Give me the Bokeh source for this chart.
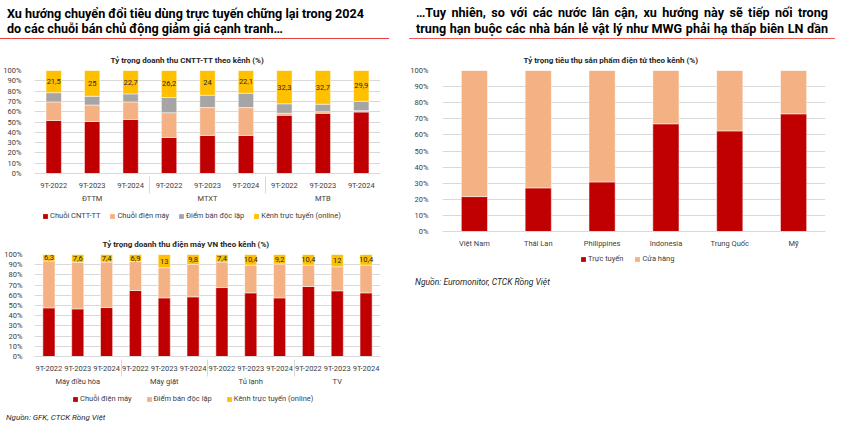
from bokeh.plotting import figure
from bokeh.models import (ColumnDataSource, FactorRange, LabelSet, Legend, LegendItem,
                          FixedTicker, PrintfTickFormatter, Div)
from bokeh.core.properties import value
from bokeh.layouts import row, column
from bokeh.embed import file_html
from bokeh.resources import INLINE

FONT = "Roboto"
RED = "#C00000"
PEACH = "#F4B183"
GRAY = "#A5A5A5"
YELLOW = "#FFC000"
GRID = "#D9D9D9"
TXT = "#404040"

# ---------------- data ----------------
periods = ["9T-2022", "9T-2023", "9T-2024"]

groups1 = ["ĐTTM", "MTXT", "MTB"]
chain_it = [51.5, 50.5, 52.5, 35.0, 37.0, 37.0, 56.5, 58.4, 59.7]
chain_elec1 = [18.0, 16.0, 17.0, 24.0, 27.0, 27.0, 2.0, 1.6, 1.3]
independent1 = [9.0, 8.5, 7.8, 14.8, 12.0, 13.9, 9.2, 7.3, 9.1]
online1 = [21.5, 25.0, 22.7, 26.2, 24.0, 22.1, 32.3, 32.7, 29.9]
names1 = ["Chuỗi CNTT-TT", "Chuỗi điện máy", "Điểm bán độc lập", "Kênh trực tuyến (online)"]

groups2 = ["Máy điều hòa", "Máy giặt", "Tủ lạnh", "TV"]
chain_elec2 = [47.7, 46.7, 48.0, 64.7, 57.5, 58.5, 67.6, 62.4, 57.5, 68.6, 64.4, 62.4]
independent2 = [46.0, 45.7, 44.6, 28.4, 29.5, 31.7, 25.0, 27.2, 33.3, 21.0, 23.6, 27.2]
online2 = [6.3, 7.6, 7.4, 6.9, 13.0, 9.8, 7.4, 10.4, 9.2, 10.4, 12.0, 10.4]
names2 = ["Chuỗi điện máy", "Điểm bán độc lập", "Kênh trực tuyến (online)"]

countries = ["Việt Nam", "Thái Lan", "Philippines", "Indonesia", "Trung Quốc", "Mỹ"]
online3 = [21.7, 27.1, 30.8, 66.9, 62.5, 73.1]
store3 = [78.3, 72.9, 69.2, 33.1, 37.5, 26.9]
names3 = ["Trực tuyến", "Cửa hàng"]

y_ticks = [0, 10, 20, 30, 40, 50, 60, 70, 80, 90, 100]

title_left = ["Xu hướng chuyển đổi tiêu dùng trực tuyến chững lại trong 2024",
              "do các chuỗi bán chủ động giảm giá cạnh tranh…"]
title_right = ["…Tuy nhiên, so với các nước lân cận, xu hướng này sẽ tiếp nối trong",
               "trung hạn buộc các nhà bán lẻ vật lý như MWG phải hạ thấp biên LN dần"]
chart_titles = ["Tỷ trọng doanh thu CNTT-TT theo kênh (%)",
                "Tỷ trọng doanh thu điện máy VN theo kênh (%)",
                "Tỷ trọng tiêu thụ sản phẩm điện tử theo kênh (%)"]
sources = ["Nguồn: GFK, CTCK Rồng Việt", "Nguồn: Euromonitor, CTCK Rồng Việt"]


def fmt(v):
    return f"{v:g}".replace(".", ",")


def style_fig(p, title, offset, tick_standoff):
    p.title.text = title
    p.title.align = "left"
    p.title.offset = offset
    p.title.standoff = 11
    p.title.text_font = FONT
    p.title.text_font_size = "8px"
    p.title.text_font_style = "bold"
    p.title.text_color = "#262626"
    p.outline_line_color = None
    p.xgrid.grid_line_color = None
    p.ygrid.grid_line_color = GRID
    p.yaxis.ticker = FixedTicker(ticks=y_ticks)
    p.yaxis.formatter = PrintfTickFormatter(format="%d%%")
    p.yaxis.axis_line_color = None
    p.yaxis.major_tick_line_color = None
    p.yaxis.minor_tick_line_color = None
    p.yaxis.major_label_text_font = FONT
    p.yaxis.major_label_text_font_size = "7.5px"
    p.yaxis.major_label_text_color = TXT
    p.yaxis.major_label_standoff = tick_standoff
    p.xaxis.axis_line_color = GRID
    p.xaxis.major_tick_line_color = None
    p.xaxis.minor_tick_line_color = None
    p.xaxis.major_label_text_font = FONT
    p.xaxis.major_label_text_font_size = "7.5px"
    p.xaxis.major_label_text_color = TXT
    p.xaxis.major_label_standoff = 1
    p.xaxis.major_label_orientation = "horizontal"


def legend_fig(factors, stackers, src, names, colors, width, loc, spacing, size="7.5px"):
    # legend-only strip: same data, y range kept above the bars so only the legend shows
    lf = figure(width=width, height=18, x_range=FactorRange(*factors), y_range=(1000, 1001),
                x_axis_location=None, y_axis_location=None, output_backend="svg",
                toolbar_location=None, min_border=0)
    lf.outline_line_color = None
    lf.grid.visible = False
    rends = lf.vbar_stack(stackers, x="x", width=0.4, color=colors, line_color=None,
                          source=src)
    items = [LegendItem(label=n, renderers=[r]) for n, r in zip(names, rends)]
    lg = Legend(items=items, orientation="horizontal", location=loc,
                label_text_font=FONT, label_text_font_size=size, label_text_color=TXT,
                glyph_width=6, glyph_height=6, label_standoff=2, spacing=spacing,
                padding=0, margin=0, border_line_color=None, background_fill_alpha=0,
                label_height=8)
    lf.add_layout(lg)
    return lf


def group_axis(p):
    ax = p.xaxis[0]
    ax.group_text_font = FONT
    ax.group_text_font_size = "7.5px"
    ax.group_text_font_style = "normal"
    ax.group_text_color = TXT
    ax.separator_line_color = GRID
    ax.separator_line_width = 1


def labels(src):
    return LabelSet(x="x", y="ly", text="lt", source=src, text_align="center",
                    text_baseline="middle", text_font=value(FONT), text_font_size="7.5px",
                    text_color="#262626")


# ---------------- chart 1 ----------------
x1 = [(g, t) for g in groups1 for t in periods]
src1 = ColumnDataSource(dict(x=x1, a=chain_it, b=chain_elec1, c=independent1, d=online1,
                             ly=[100 - v / 2 for v in online1],
                             lt=[fmt(v) for v in online1]))
p1 = figure(x_range=FactorRange(*x1, factor_padding=0, group_padding=0, range_padding=0),
            y_range=(0, 100), width=400, height=167, output_backend="svg",
            toolbar_location=None, min_border_left=32, min_border_right=20,
            min_border_top=30, min_border_bottom=34)
p1.vbar_stack(["a", "b", "c", "d"], x="x", width=0.4, color=[RED, PEACH, GRAY, YELLOW],
              line_color="white", line_width=0.5, source=src1)
p1.add_layout(labels(src1))
style_fig(p1, chart_titles[0], 76, 7)
group_axis(p1)
leg1 = legend_fig(x1, ["a", "b", "c", "d"], src1, names1, [RED, PEACH, GRAY, YELLOW],
                  400, (8, 5), 9)

# ---------------- chart 2 ----------------
x2 = [(g, t) for g in groups2 for t in periods]
src2 = ColumnDataSource(dict(x=x2, a=chain_elec2, b=independent2, c=online2,
                             ly=[100 - v / 2 for v in online2],
                             lt=[fmt(v) for v in online2]))
p2 = figure(x_range=FactorRange(*x2, factor_padding=0, group_padding=0, range_padding=0),
            y_range=(0, 100), width=400, height=165, output_backend="svg",
            toolbar_location=None, min_border_left=30, min_border_right=20,
            min_border_top=29, min_border_bottom=34)
p2.vbar_stack(["a", "b", "c"], x="x", width=0.42, color=[RED, PEACH, YELLOW],
              line_color="white", line_width=0.5, source=src2)
p2.add_layout(labels(src2))
style_fig(p2, chart_titles[1], 68, 6)
group_axis(p2)
leg2 = legend_fig(x2, ["a", "b", "c"], src2, names2, [RED, PEACH, YELLOW],
                  400, (38, 5), 14)

# ---------------- chart 3 ----------------
src3 = ColumnDataSource(dict(x=countries, a=online3, b=store3))
p3 = figure(x_range=FactorRange(*countries, factor_padding=0, range_padding=0),
            y_range=(0, 100), width=449, height=210, output_backend="svg",
            toolbar_location=None, min_border_left=42, min_border_right=24,
            min_border_top=30, min_border_bottom=19)
p3.vbar_stack(["a", "b"], x="x", width=0.41, color=[RED, PEACH],
              line_color="white", line_width=0.5, source=src3)
style_fig(p3, chart_titles[2], 81, 8)
leg3 = legend_fig(countries, ["a", "b"], src3, names3, [RED, PEACH], 449, (138, 5), 11)

# ---------------- headers / sources ----------------
hdr_style = ("font-family:Roboto,sans-serif;font-weight:bold;font-size:12.6px;"
             "line-height:15px;color:#000;box-sizing:border-box;")
div1 = Div(text=f'<div style="{hdr_style}width:389px;padding:6px 0 2px 7px;'
                f'border-bottom:1.5px solid #E8403A;">'
                f'{title_left[0]}<br>{title_left[1]}</div>',
           width=400, height=40, margin=0)
div2 = Div(text=f'<div style="{hdr_style}margin-left:9px;width:426px;padding:5px 7px 1px 7px;'
                f'line-height:16px;text-align:justify;text-align-last:justify;'
                f'border-bottom:1.5px solid #EE5A55;">{title_right[0]}<br>{title_right[1]}</div>',
           width=449, height=40, margin=0)
src_style = "font-family:Roboto,sans-serif;font-style:italic;color:#262626;"
s1 = Div(text=f'<div style="{src_style}font-size:8px;line-height:20px;margin-left:6px;">'
              f'{sources[0]}</div>', width=400, height=22, margin=0)
s2 = Div(text=f'<div style="{src_style}font-size:8.5px;line-height:28px;margin-left:15px;">'
              f'{sources[1]}</div>', width=449, height=28, margin=0)

layout = row(column(div1, p1, leg1, p2, leg2, s1), column(div2, p3, leg3, s2))
open("out.html", "w").write(file_html(layout, INLINE))
